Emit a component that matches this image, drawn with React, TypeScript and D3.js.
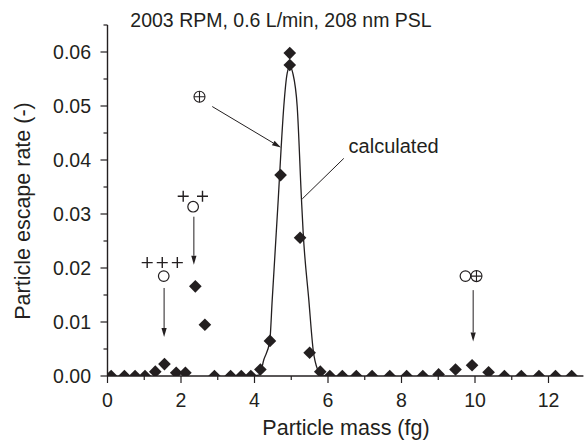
import React from "react";
import * as d3 from "d3";

// ---- data ----
const massFg = [0.1, 0.46, 0.75, 1.02, 1.3, 1.55, 1.87, 2.12, 2.39, 2.65, 2.91, 3.35, 3.64, 3.9, 4.16, 4.42, 4.71, 4.96, 4.96, 5.24, 5.5, 5.79, 6.05, 6.39, 6.77, 7.2, 7.68, 8.14, 8.58, 9.01, 9.47, 9.92, 10.37, 10.8, 11.26, 11.74, 12.19, 12.63];
const escapeRate = [0, 0, 0, 0, 0.0008, 0.0022, 0.0006, 0.0006, 0.0166, 0.0095, 0, 0, 0, 0, 0.0012, 0.0065, 0.0372, 0.0576, 0.0598, 0.0256, 0.0043, 0.0008, 0, 0, 0, 0, 0, 0, 0, 0.0003, 0.0012, 0.002, 0.0007, 0, 0, 0, 0, 0];

const calcMass = [3.9, 4.136, 4.253, 4.416, 4.482, 4.645, 4.727, 4.797, 4.89, 4.96, 5.042, 5.162, 5.279, 5.325, 5.478, 5.597, 5.722, 5.85, 6.1];
const calcRate = [0, 0.0002, 0.003, 0.0065, 0.0141, 0.0326, 0.0425, 0.0499, 0.0561, 0.0573, 0.0561, 0.0499, 0.0326, 0.0265, 0.0141, 0.0048, 0.0011, 0, 0];

const xMajorTicks = [0, 2, 4, 6, 8, 10, 12];
const xMinorTicks = [1, 3, 5, 7, 9, 11];
const yMajorTicks = [0, 0.01, 0.02, 0.03, 0.04, 0.05, 0.06];
const yMinorTicks = [0.005, 0.015, 0.025, 0.035, 0.045, 0.055, 0.065];

const title = "2003 RPM, 0.6 L/min, 208 nm PSL";
const xLabel = "Particle mass (fg)";
const yLabel = "Particle escape rate (-)";

// annotation anchors (data coordinates)
const plusMarks = [
  [2.06, 0.0333], [2.585, 0.0333],
  [1.08, 0.021], [1.49, 0.021], [1.9, 0.021],
];
const openCircles = [[2.33, 0.03135], [1.53, 0.0185], [9.74, 0.0185]];
const crossCircles = [[2.503, 0.0517], [10.04, 0.0185]];
const arrows = [
  [2.85, 0.0499, 4.72, 0.0423],
  [2.35, 0.0295, 2.35, 0.0206],
  [1.54, 0.0163, 1.54, 0.0072],
  [9.95, 0.0159, 9.95, 0.0064],
];
const calcLabelLine = [6.43, 0.0403, 5.3, 0.0328];
const calcLabelPos = [6.56, 0.0413];

const W = 584;
const H = 441;
const INK = "#231f20";
const FONT = "'Liberation Sans', Arial, Helvetica, sans-serif";

export default function App() {
  const x = d3.scaleLinear().domain([0, 12.95]).range([107.5, 107.5 + 12.95 * 36.75]);
  const y = d3.scaleLinear().domain([0, 0.065]).range([376, 376 - 0.065 * 5400]);

  const diamond = d3.symbol().type(d3.symbolSquare).size(80)() as string;

  const line = d3
    .line<number>()
    .x((_, i) => x(calcMass[i]))
    .y((_, i) => y(calcRate[i]))
    .curve(d3.curveMonotoneX);
  const calcPath = line(calcRate) as string;

  const arrowEls = arrows.map(([x1, y1, x2, y2], i) => {
    const px1 = x(x1), py1 = y(y1), px2 = x(x2), py2 = y(y2);
    const ang = Math.atan2(py2 - py1, px2 - px1);
    const L = 9, Wd = 2.6;
    const bx = px2 - L * Math.cos(ang), by = py2 - L * Math.sin(ang);
    const nx = -Math.sin(ang), ny = Math.cos(ang);
    const head = `M${px2},${py2}L${bx + nx * Wd},${by + ny * Wd}L${bx - nx * Wd},${by - ny * Wd}Z`;
    return (
      <g key={"a" + i}>
        <line x1={px1} y1={py1} x2={bx} y2={by} stroke={INK} strokeWidth={1} />
        <path d={head} fill={INK} />
      </g>
    );
  });

  const x0 = x(0), xEnd = x(12.95), y0 = y(0), yTop = y(0.065);

  return (
    <svg
      width={W}
      height={H}
      style={{ position: "absolute", left: 0, top: 0, background: "#fff" }}
      fontFamily={FONT}
    >
      <defs>
        <clipPath id="plotClip">
          <rect x={x0} y={0} width={W - x0} height={y0} />
        </clipPath>
      </defs>

      <text x={281} y={27} textAnchor="middle" fontSize={19.5} fill={INK}>
        {title}
      </text>

      {/* calculated curve */}
      <path d={calcPath} fill="none" stroke={INK} strokeWidth={1.3} clipPath="url(#plotClip)" />

      {/* data diamonds */}
      <g clipPath="url(#plotClip)">
        {massFg.map((m, i) => (
          <path
            key={i}
            d={diamond}
            transform={`translate(${x(m)},${y(escapeRate[i])}) rotate(45)`}
            fill={INK}
          />
        ))}
      </g>

      {/* axes */}
      <line x1={x0} y1={y0} x2={xEnd} y2={y0} stroke={INK} strokeWidth={1.4} />
      <line x1={x0} y1={y0} x2={x0} y2={yTop} stroke={INK} strokeWidth={1.4} />
      {xMajorTicks.map((t) => (
        <g key={"xt" + t}>
          <line x1={x(t)} x2={x(t)} y1={y0} y2={y0 + 7} stroke={INK} strokeWidth={1.2} />
          <text x={x(t)} y={407} textAnchor="middle" fontSize={19.5} fill={INK}>
            {t}
          </text>
        </g>
      ))}
      {xMinorTicks.map((t) => (
        <line key={"xm" + t} x1={x(t)} x2={x(t)} y1={y0} y2={y0 + 4} stroke={INK} strokeWidth={1.2} />
      ))}
      {yMajorTicks.map((t) => (
        <g key={"yt" + t}>
          <line x1={x0} x2={x0 - 7} y1={y(t)} y2={y(t)} stroke={INK} strokeWidth={1.2} />
          <text x={91} y={y(t) + 7} textAnchor="end" fontSize={19.5} fill={INK}>
            {t.toFixed(2)}
          </text>
        </g>
      ))}
      {yMinorTicks.map((t) => (
        <line key={"ym" + t} x1={x0} x2={x0 - 4} y1={y(t)} y2={y(t)} stroke={INK} strokeWidth={1.2} />
      ))}

      <text x={346} y={435} textAnchor="middle" fontSize={21.5} fill={INK}>
        {xLabel}
      </text>
      <text
        transform={`translate(30,211) rotate(-90)`}
        textAnchor="middle"
        fontSize={21.5}
        fill={INK}
      >
        {yLabel}
      </text>

      {/* annotations */}
      {arrowEls}
      <line
        x1={x(calcLabelLine[0])}
        y1={y(calcLabelLine[1])}
        x2={x(calcLabelLine[2])}
        y2={y(calcLabelLine[3])}
        stroke={INK}
        strokeWidth={1}
      />
      <text x={x(calcLabelPos[0])} y={y(calcLabelPos[1])} fontSize={20} fill={INK}>
        calculated
      </text>
      {plusMarks.map(([mx, my], i) => (
        <path
          key={"p" + i}
          d={`M${x(mx) - 5.5},${y(my)}H${x(mx) + 5.5}M${x(mx)},${y(my) - 5.5}V${y(my) + 5.5}`}
          stroke={INK}
          strokeWidth={1.4}
          fill="none"
        />
      ))}
      {openCircles.map(([cx, cy], i) => (
        <circle key={"c" + i} cx={x(cx)} cy={y(cy)} r={5.3} fill="none" stroke={INK} strokeWidth={1.2} />
      ))}
      {crossCircles.map(([cx, cy], i) => (
        <g key={"cc" + i}>
          <circle cx={x(cx)} cy={y(cy)} r={5.5} fill="none" stroke={INK} strokeWidth={1.1} />
          <path
            d={`M${x(cx) - 5.5},${y(cy)}H${x(cx) + 5.5}M${x(cx)},${y(cy) - 5.5}V${y(cy) + 5.5}`}
            stroke={INK}
            strokeWidth={1.1}
          />
        </g>
      ))}
    </svg>
  );
}
